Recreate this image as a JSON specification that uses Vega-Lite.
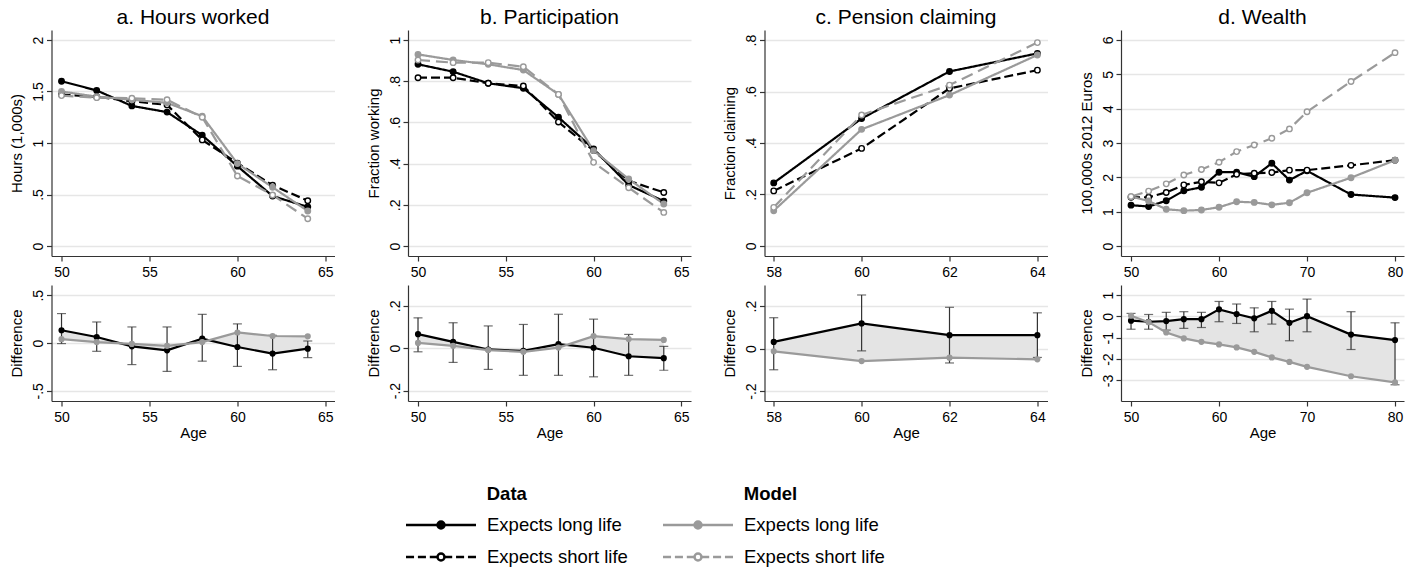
{
  "$schema": "https://vega.github.io/schema/vega-lite/v6.json",
  "padding": {"left": 9.5, "top": 7, "right": 5, "bottom": 0},
  "spacing": 0,
  "datasets": {
    "top": [
      {"panel":"a","series":"Data long","age":50,"value":1.60},{"panel":"a","series":"Data long","age":52,"value":1.51},{"panel":"a","series":"Data long","age":54,"value":1.36},{"panel":"a","series":"Data long","age":56,"value":1.30},{"panel":"a","series":"Data long","age":58,"value":1.075},{"panel":"a","series":"Data long","age":60,"value":0.775},{"panel":"a","series":"Data long","age":62,"value":0.485},{"panel":"a","series":"Data long","age":64,"value":0.38},
      {"panel":"a","series":"Data short","age":50,"value":1.47},{"panel":"a","series":"Data short","age":52,"value":1.45},{"panel":"a","series":"Data short","age":54,"value":1.405},{"panel":"a","series":"Data short","age":56,"value":1.37},{"panel":"a","series":"Data short","age":58,"value":1.03},{"panel":"a","series":"Data short","age":60,"value":0.805},{"panel":"a","series":"Data short","age":62,"value":0.59},{"panel":"a","series":"Data short","age":64,"value":0.44},
      {"panel":"a","series":"Model long","age":50,"value":1.50},{"panel":"a","series":"Model long","age":52,"value":1.45},{"panel":"a","series":"Model long","age":54,"value":1.42},{"panel":"a","series":"Model long","age":56,"value":1.39},{"panel":"a","series":"Model long","age":58,"value":1.26},{"panel":"a","series":"Model long","age":60,"value":0.80},{"panel":"a","series":"Model long","age":62,"value":0.57},{"panel":"a","series":"Model long","age":64,"value":0.34},
      {"panel":"a","series":"Model short","age":50,"value":1.46},{"panel":"a","series":"Model short","age":52,"value":1.44},{"panel":"a","series":"Model short","age":54,"value":1.435},{"panel":"a","series":"Model short","age":56,"value":1.42},{"panel":"a","series":"Model short","age":58,"value":1.25},{"panel":"a","series":"Model short","age":60,"value":0.68},{"panel":"a","series":"Model short","age":62,"value":0.495},{"panel":"a","series":"Model short","age":64,"value":0.265},

      {"panel":"b","series":"Data long","age":50,"value":0.882},{"panel":"b","series":"Data long","age":52,"value":0.846},{"panel":"b","series":"Data long","age":54,"value":0.79},{"panel":"b","series":"Data long","age":56,"value":0.766},{"panel":"b","series":"Data long","age":58,"value":0.625},{"panel":"b","series":"Data long","age":60,"value":0.471},{"panel":"b","series":"Data long","age":62,"value":0.296},{"panel":"b","series":"Data long","age":64,"value":0.218},
      {"panel":"b","series":"Data short","age":50,"value":0.817},{"panel":"b","series":"Data short","age":52,"value":0.817},{"panel":"b","series":"Data short","age":54,"value":0.79},{"panel":"b","series":"Data short","age":56,"value":0.777},{"panel":"b","series":"Data short","age":58,"value":0.602},{"panel":"b","series":"Data short","age":60,"value":0.463},{"panel":"b","series":"Data short","age":62,"value":0.317},{"panel":"b","series":"Data short","age":64,"value":0.26},
      {"panel":"b","series":"Model long","age":50,"value":0.93},{"panel":"b","series":"Model long","age":52,"value":0.903},{"panel":"b","series":"Model long","age":54,"value":0.882},{"panel":"b","series":"Model long","age":56,"value":0.854},{"panel":"b","series":"Model long","age":58,"value":0.736},{"panel":"b","series":"Model long","age":60,"value":0.463},{"panel":"b","series":"Model long","age":62,"value":0.325},{"panel":"b","series":"Model long","age":64,"value":0.204},
      {"panel":"b","series":"Model short","age":50,"value":0.903},{"panel":"b","series":"Model short","age":52,"value":0.89},{"panel":"b","series":"Model short","age":54,"value":0.89},{"panel":"b","series":"Model short","age":56,"value":0.87},{"panel":"b","series":"Model short","age":58,"value":0.736},{"panel":"b","series":"Model short","age":60,"value":0.406},{"panel":"b","series":"Model short","age":62,"value":0.283},{"panel":"b","series":"Model short","age":64,"value":0.163},

      {"panel":"c","series":"Data long","age":58,"value":0.245},{"panel":"c","series":"Data long","age":60,"value":0.495},{"panel":"c","series":"Data long","age":62,"value":0.678},{"panel":"c","series":"Data long","age":64,"value":0.748},
      {"panel":"c","series":"Data short","age":58,"value":0.214},{"panel":"c","series":"Data short","age":60,"value":0.379},{"panel":"c","series":"Data short","age":62,"value":0.612},{"panel":"c","series":"Data short","age":64,"value":0.683},
      {"panel":"c","series":"Model long","age":58,"value":0.137},{"panel":"c","series":"Model long","age":60,"value":0.453},{"panel":"c","series":"Model long","age":62,"value":0.586},{"panel":"c","series":"Model long","age":64,"value":0.742},
      {"panel":"c","series":"Model short","age":58,"value":0.15},{"panel":"c","series":"Model short","age":60,"value":0.509},{"panel":"c","series":"Model short","age":62,"value":0.625},{"panel":"c","series":"Model short","age":64,"value":0.79},

      {"panel":"d","series":"Data long","age":50,"value":1.19},{"panel":"d","series":"Data long","age":52,"value":1.15},{"panel":"d","series":"Data long","age":54,"value":1.32},{"panel":"d","series":"Data long","age":56,"value":1.61},{"panel":"d","series":"Data long","age":58,"value":1.71},{"panel":"d","series":"Data long","age":60,"value":2.15},{"panel":"d","series":"Data long","age":62,"value":2.15},{"panel":"d","series":"Data long","age":64,"value":2.02},{"panel":"d","series":"Data long","age":66,"value":2.41},{"panel":"d","series":"Data long","age":68,"value":1.92},{"panel":"d","series":"Data long","age":70,"value":2.19},{"panel":"d","series":"Data long","age":75,"value":1.50},{"panel":"d","series":"Data long","age":80,"value":1.41},
      {"panel":"d","series":"Data short","age":50,"value":1.42},{"panel":"d","series":"Data short","age":52,"value":1.42},{"panel":"d","series":"Data short","age":54,"value":1.56},{"panel":"d","series":"Data short","age":56,"value":1.78},{"panel":"d","series":"Data short","age":58,"value":1.87},{"panel":"d","series":"Data short","age":60,"value":1.84},{"panel":"d","series":"Data short","age":62,"value":2.09},{"panel":"d","series":"Data short","age":64,"value":2.12},{"panel":"d","series":"Data short","age":66,"value":2.14},{"panel":"d","series":"Data short","age":68,"value":2.21},{"panel":"d","series":"Data short","age":70,"value":2.21},{"panel":"d","series":"Data short","age":75,"value":2.35},{"panel":"d","series":"Data short","age":80,"value":2.50},
      {"panel":"d","series":"Model long","age":50,"value":1.44},{"panel":"d","series":"Model long","age":52,"value":1.31},{"panel":"d","series":"Model long","age":54,"value":1.07},{"panel":"d","series":"Model long","age":56,"value":1.03},{"panel":"d","series":"Model long","age":58,"value":1.05},{"panel":"d","series":"Model long","age":60,"value":1.13},{"panel":"d","series":"Model long","age":62,"value":1.29},{"panel":"d","series":"Model long","age":64,"value":1.27},{"panel":"d","series":"Model long","age":66,"value":1.20},{"panel":"d","series":"Model long","age":68,"value":1.26},{"panel":"d","series":"Model long","age":70,"value":1.55},{"panel":"d","series":"Model long","age":75,"value":1.99},{"panel":"d","series":"Model long","age":80,"value":2.50},
      {"panel":"d","series":"Model short","age":50,"value":1.44},{"panel":"d","series":"Model short","age":52,"value":1.60},{"panel":"d","series":"Model short","age":54,"value":1.81},{"panel":"d","series":"Model short","age":56,"value":2.07},{"panel":"d","series":"Model short","age":58,"value":2.23},{"panel":"d","series":"Model short","age":60,"value":2.44},{"panel":"d","series":"Model short","age":62,"value":2.75},{"panel":"d","series":"Model short","age":64,"value":2.94},{"panel":"d","series":"Model short","age":66,"value":3.14},{"panel":"d","series":"Model short","age":68,"value":3.41},{"panel":"d","series":"Model short","age":70,"value":3.91},{"panel":"d","series":"Model short","age":75,"value":4.79},{"panel":"d","series":"Model short","age":80,"value":5.63}
    ],
    "diff": [
      {"panel":"a","age":50,"data":0.133,"model":0.04,"lo":-0.006,"hi":0.308},
      {"panel":"a","age":52,"data":0.063,"model":0.01,"lo":-0.087,"hi":0.22},
      {"panel":"a","age":54,"data":-0.035,"model":-0.01,"lo":-0.226,"hi":0.168},
      {"panel":"a","age":56,"data":-0.077,"model":-0.03,"lo":-0.297,"hi":0.168},
      {"panel":"a","age":58,"data":0.046,"model":0.01,"lo":-0.19,"hi":0.30},
      {"panel":"a","age":60,"data":-0.042,"model":0.11,"lo":-0.245,"hi":0.20},
      {"panel":"a","age":62,"data":-0.111,"model":0.073,"lo":-0.28,"hi":0.08},
      {"panel":"a","age":64,"data":-0.059,"model":0.07,"lo":-0.153,"hi":0.021},
      {"panel":"b","age":50,"data":0.066,"model":0.025,"lo":-0.017,"hi":0.143},
      {"panel":"b","age":52,"data":0.03,"model":0.011,"lo":-0.067,"hi":0.12},
      {"panel":"b","age":54,"data":-0.006,"model":-0.009,"lo":-0.1,"hi":0.105},
      {"panel":"b","age":56,"data":-0.013,"model":-0.017,"lo":-0.128,"hi":0.112},
      {"panel":"b","age":58,"data":0.019,"model":0.003,"lo":-0.128,"hi":0.16},
      {"panel":"b","age":60,"data":0.002,"model":0.057,"lo":-0.135,"hi":0.137},
      {"panel":"b","age":62,"data":-0.038,"model":0.043,"lo":-0.128,"hi":0.065},
      {"panel":"b","age":64,"data":-0.047,"model":0.039,"lo":-0.104,"hi":0.009},
      {"panel":"c","age":58,"data":0.031,"model":-0.013,"lo":-0.1,"hi":0.145},
      {"panel":"c","age":60,"data":0.118,"model":-0.059,"lo":-0.011,"hi":0.252},
      {"panel":"c","age":62,"data":0.063,"model":-0.043,"lo":-0.068,"hi":0.194},
      {"panel":"c","age":64,"data":0.063,"model":-0.051,"lo":-0.042,"hi":0.168},
      {"panel":"d","age":50,"data":-0.2,"model":0.03,"lo":-0.6,"hi":0.14},
      {"panel":"d","age":52,"data":-0.25,"model":-0.27,"lo":-0.6,"hi":0.09},
      {"panel":"d","age":54,"data":-0.22,"model":-0.75,"lo":-0.64,"hi":0.19},
      {"panel":"d","age":56,"data":-0.13,"model":-1.03,"lo":-0.56,"hi":0.22},
      {"panel":"d","age":58,"data":-0.13,"model":-1.19,"lo":-0.52,"hi":0.19},
      {"panel":"d","age":60,"data":0.33,"model":-1.31,"lo":-0.25,"hi":0.70},
      {"panel":"d","age":62,"data":0.11,"model":-1.45,"lo":-0.33,"hi":0.58},
      {"panel":"d","age":64,"data":-0.09,"model":-1.66,"lo":-0.72,"hi":0.40},
      {"panel":"d","age":66,"data":0.26,"model":-1.92,"lo":-0.36,"hi":0.70},
      {"panel":"d","age":68,"data":-0.30,"model":-2.13,"lo":-1.14,"hi":0.34},
      {"panel":"d","age":70,"data":0.01,"model":-2.36,"lo":-0.72,"hi":0.81},
      {"panel":"d","age":75,"data":-0.85,"model":-2.80,"lo":-1.55,"hi":0.22},
      {"panel":"d","age":80,"data":-1.11,"model":-3.09,"lo":-3.2,"hi":-0.30}
    ],
    "leg": [
      {"Data":"Expects long life","Model":"Expects long life"},
      {"Data":"Expects short life","Model":"Expects short life"}
    ]
  },
  "resolve": {"scale": {"color": "independent", "strokeDash": "independent", "fill": "independent", "stroke": "independent", "shape": "independent"}},
  "vconcat": [
    {
      "hconcat": [
        {
          "spacing": 6,
          "vconcat": [
            {
              "width": 283, "height": 226,
              "title": "a. Hours worked",
              "data": {"name": "top"},
              "transform": [{"filter": "datum.panel === 'a'"}],
              "encoding": {
                "x": {"field": "age", "type": "quantitative", "scale": {"domain": [49.43, 65.52], "nice": false, "zero": false}, "axis": {"values": [50,55,60,65], "title": null}},
                "y": {"field": "value", "type": "quantitative", "scale": {"domain": [-0.097, 2.097], "nice": false, "zero": false}, "axis": {"values": [0,0.5,1,1.5,2], "tickCount": 10, "title": "Hours (1,000s)", "labelOverlap": false, "labelExpr": "datum.value > 0 && datum.value < 1 ? replace(toString(datum.value), '0.', '.') : (datum.value < 0 && datum.value > -1 ? replace(toString(datum.value), '-0.', '-.') : toString(datum.value))"}}
              },
              "layer": [
                {"mark": {"type": "line", "strokeWidth": 2.2},
                 "encoding": {
                   "color": {"field": "series", "type": "nominal", "scale": {"domain": ["Data long","Data short","Model long","Model short"], "range": ["#000000","#000000","#9a9a9a","#9a9a9a"]}, "legend": null},
                   "strokeDash": {"field": "series", "type": "nominal", "scale": {"domain": ["Data long","Data short","Model long","Model short"], "range": [[1,0],[9,4],[1,0],[12,6]]}, "legend": null}
                 }},
                {"mark": {"type": "point", "filled": true, "opacity": 1, "size": 30, "strokeWidth": 1.4},
                 "encoding": {
                   "fill": {"field": "series", "type": "nominal", "scale": {"domain": ["Data long","Data short","Model long","Model short"], "range": ["#000000","#ffffff","#9a9a9a","#ffffff"]}, "legend": null},
                   "stroke": {"field": "series", "type": "nominal", "scale": {"domain": ["Data long","Data short","Model long","Model short"], "range": ["#000000","#000000","#9a9a9a","#9a9a9a"]}, "legend": null}
                 }}
              ]
            },
            {
              "width": 283, "height": 116,
              "data": {"name": "diff"},
              "transform": [{"filter": "datum.panel === 'a'"}],
              "encoding": {
                "x": {"field": "age", "type": "quantitative", "scale": {"domain": [49.43, 65.52], "nice": false, "zero": false}, "axis": {"values": [50,55,60,65], "title": "Age"}}
              },
              "layer": [
                {"mark": {"type": "area", "color": "#e4e4e4", "opacity": 1},
                 "encoding": {"y": {"field": "data", "type": "quantitative", "title": "Difference", "scale": {"domain": [-0.607, 0.607], "nice": false, "zero": false}, "axis": {"values": [-0.5,0,0.5], "tickCount": 10, "labelOverlap": false, "labelExpr": "datum.value > 0 && datum.value < 1 ? replace(toString(datum.value), '0.', '.') : (datum.value < 0 && datum.value > -1 ? replace(toString(datum.value), '-0.', '-.') : toString(datum.value))"}}, "y2": {"field": "model"}}},
                {"mark": {"type": "errorbar", "ticks": {"size": 9}, "thickness": 1.2, "color": "#333333"},
                 "encoding": {"y": {"field": "lo", "type": "quantitative", "title": "Difference"}, "y2": {"field": "hi"}}},
                {"mark": {"type": "line", "color": "#000000", "strokeWidth": 2.2, "point": {"filled": true, "color": "#000000", "size": 38, "opacity": 1}},
                 "encoding": {"y": {"field": "data", "type": "quantitative", "title": "Difference"}}},
                {"mark": {"type": "line", "color": "#9a9a9a", "strokeWidth": 2.2, "point": {"filled": true, "color": "#9a9a9a", "size": 38, "opacity": 1}},
                 "encoding": {"y": {"field": "model", "type": "quantitative", "title": "Difference"}}}
              ]
            }
          ]
        },
        {
          "spacing": 6,
          "vconcat": [
            {
              "width": 283, "height": 226,
              "title": "b. Participation",
              "data": {"name": "top"},
              "transform": [{"filter": "datum.panel === 'b'"}],
              "encoding": {
                "x": {"field": "age", "type": "quantitative", "scale": {"domain": [49.43, 65.55], "nice": false, "zero": false}, "axis": {"values": [50,55,60,65], "title": null}},
                "y": {"field": "value", "type": "quantitative", "scale": {"domain": [-0.0485, 1.0485], "nice": false, "zero": false}, "axis": {"values": [0,0.2,0.4,0.6,0.8,1], "tickCount": 10, "title": "Fraction working", "labelOverlap": false, "labelExpr": "datum.value > 0 && datum.value < 1 ? replace(toString(datum.value), '0.', '.') : (datum.value < 0 && datum.value > -1 ? replace(toString(datum.value), '-0.', '-.') : toString(datum.value))"}}
              },
              "layer": [
                {"mark": {"type": "line", "strokeWidth": 2.2},
                 "encoding": {
                   "color": {"field": "series", "type": "nominal", "scale": {"domain": ["Data long","Data short","Model long","Model short"], "range": ["#000000","#000000","#9a9a9a","#9a9a9a"]}, "legend": null},
                   "strokeDash": {"field": "series", "type": "nominal", "scale": {"domain": ["Data long","Data short","Model long","Model short"], "range": [[1,0],[9,4],[1,0],[12,6]]}, "legend": null}
                 }},
                {"mark": {"type": "point", "filled": true, "opacity": 1, "size": 30, "strokeWidth": 1.4},
                 "encoding": {
                   "fill": {"field": "series", "type": "nominal", "scale": {"domain": ["Data long","Data short","Model long","Model short"], "range": ["#000000","#ffffff","#9a9a9a","#ffffff"]}, "legend": null},
                   "stroke": {"field": "series", "type": "nominal", "scale": {"domain": ["Data long","Data short","Model long","Model short"], "range": ["#000000","#000000","#9a9a9a","#9a9a9a"]}, "legend": null}
                 }}
              ]
            },
            {
              "width": 283, "height": 116,
              "data": {"name": "diff"},
              "transform": [{"filter": "datum.panel === 'b'"}],
              "encoding": {
                "x": {"field": "age", "type": "quantitative", "scale": {"domain": [49.43, 65.55], "nice": false, "zero": false}, "axis": {"values": [50,55,60,65], "title": "Age"}}
              },
              "layer": [
                {"mark": {"type": "area", "color": "#e4e4e4", "opacity": 1},
                 "encoding": {"y": {"field": "data", "type": "quantitative", "title": "Difference", "scale": {"domain": [-0.249, 0.298], "nice": false, "zero": false}, "axis": {"values": [-0.2,0,0.2], "tickCount": 10, "labelOverlap": false, "labelExpr": "datum.value > 0 && datum.value < 1 ? replace(toString(datum.value), '0.', '.') : (datum.value < 0 && datum.value > -1 ? replace(toString(datum.value), '-0.', '-.') : toString(datum.value))"}}, "y2": {"field": "model"}}},
                {"mark": {"type": "errorbar", "ticks": {"size": 9}, "thickness": 1.2, "color": "#333333"},
                 "encoding": {"y": {"field": "lo", "type": "quantitative", "title": "Difference"}, "y2": {"field": "hi"}}},
                {"mark": {"type": "line", "color": "#000000", "strokeWidth": 2.2, "point": {"filled": true, "color": "#000000", "size": 38, "opacity": 1}},
                 "encoding": {"y": {"field": "data", "type": "quantitative", "title": "Difference"}}},
                {"mark": {"type": "line", "color": "#9a9a9a", "strokeWidth": 2.2, "point": {"filled": true, "color": "#9a9a9a", "size": 38, "opacity": 1}},
                 "encoding": {"y": {"field": "model", "type": "quantitative", "title": "Difference"}}}
              ]
            }
          ]
        },
        {
          "spacing": 6,
          "vconcat": [
            {
              "width": 283, "height": 226,
              "title": "c. Pension claiming",
              "data": {"name": "top"},
              "transform": [{"filter": "datum.panel === 'c'"}],
              "encoding": {
                "x": {"field": "age", "type": "quantitative", "scale": {"domain": [57.79, 64.23], "nice": false, "zero": false}, "axis": {"values": [58,60,62,64], "title": null}},
                "y": {"field": "value", "type": "quantitative", "scale": {"domain": [-0.039, 0.839], "nice": false, "zero": false}, "axis": {"values": [0,0.2,0.4,0.6,0.8], "tickCount": 10, "title": "Fraction claiming", "labelOverlap": false, "labelExpr": "datum.value > 0 && datum.value < 1 ? replace(toString(datum.value), '0.', '.') : (datum.value < 0 && datum.value > -1 ? replace(toString(datum.value), '-0.', '-.') : toString(datum.value))"}}
              },
              "layer": [
                {"mark": {"type": "line", "strokeWidth": 2.2},
                 "encoding": {
                   "color": {"field": "series", "type": "nominal", "scale": {"domain": ["Data long","Data short","Model long","Model short"], "range": ["#000000","#000000","#9a9a9a","#9a9a9a"]}, "legend": null},
                   "strokeDash": {"field": "series", "type": "nominal", "scale": {"domain": ["Data long","Data short","Model long","Model short"], "range": [[1,0],[9,4],[1,0],[12,6]]}, "legend": null}
                 }},
                {"mark": {"type": "point", "filled": true, "opacity": 1, "size": 30, "strokeWidth": 1.4},
                 "encoding": {
                   "fill": {"field": "series", "type": "nominal", "scale": {"domain": ["Data long","Data short","Model long","Model short"], "range": ["#000000","#ffffff","#9a9a9a","#ffffff"]}, "legend": null},
                   "stroke": {"field": "series", "type": "nominal", "scale": {"domain": ["Data long","Data short","Model long","Model short"], "range": ["#000000","#000000","#9a9a9a","#9a9a9a"]}, "legend": null}
                 }}
              ]
            },
            {
              "width": 283, "height": 116,
              "data": {"name": "diff"},
              "transform": [{"filter": "datum.panel === 'c'"}],
              "encoding": {
                "x": {"field": "age", "type": "quantitative", "scale": {"domain": [57.79, 64.23], "nice": false, "zero": false}, "axis": {"values": [58,60,62,64], "title": "Age"}}
              },
              "layer": [
                {"mark": {"type": "area", "color": "#e4e4e4", "opacity": 1},
                 "encoding": {"y": {"field": "data", "type": "quantitative", "title": "Difference", "scale": {"domain": [-0.247, 0.299], "nice": false, "zero": false}, "axis": {"values": [-0.2,0,0.2], "tickCount": 10, "labelOverlap": false, "labelExpr": "datum.value > 0 && datum.value < 1 ? replace(toString(datum.value), '0.', '.') : (datum.value < 0 && datum.value > -1 ? replace(toString(datum.value), '-0.', '-.') : toString(datum.value))"}}, "y2": {"field": "model"}}},
                {"mark": {"type": "errorbar", "ticks": {"size": 9}, "thickness": 1.2, "color": "#333333"},
                 "encoding": {"y": {"field": "lo", "type": "quantitative", "title": "Difference"}, "y2": {"field": "hi"}}},
                {"mark": {"type": "line", "color": "#000000", "strokeWidth": 2.2, "point": {"filled": true, "color": "#000000", "size": 38, "opacity": 1}},
                 "encoding": {"y": {"field": "data", "type": "quantitative", "title": "Difference"}}},
                {"mark": {"type": "line", "color": "#9a9a9a", "strokeWidth": 2.2, "point": {"filled": true, "color": "#9a9a9a", "size": 38, "opacity": 1}},
                 "encoding": {"y": {"field": "model", "type": "quantitative", "title": "Difference"}}}
              ]
            }
          ]
        },
        {
          "spacing": 6,
          "vconcat": [
            {
              "width": 283, "height": 226,
              "title": "d. Wealth",
              "data": {"name": "top"},
              "transform": [{"filter": "datum.panel === 'd'"}],
              "encoding": {
                "x": {"field": "age", "type": "quantitative", "scale": {"domain": [48.86, 81.02], "nice": false, "zero": false}, "axis": {"values": [50,60,70,80], "title": null}},
                "y": {"field": "value", "type": "quantitative", "scale": {"domain": [-0.29, 6.29], "nice": false, "zero": false}, "axis": {"values": [0,1,2,3,4,5,6], "tickCount": 10, "title": "100,000s 2012 Euros", "labelOverlap": false, "labelExpr": "toString(datum.value)"}}
              },
              "layer": [
                {"mark": {"type": "line", "strokeWidth": 2.2},
                 "encoding": {
                   "color": {"field": "series", "type": "nominal", "scale": {"domain": ["Data long","Data short","Model long","Model short"], "range": ["#000000","#000000","#9a9a9a","#9a9a9a"]}, "legend": null},
                   "strokeDash": {"field": "series", "type": "nominal", "scale": {"domain": ["Data long","Data short","Model long","Model short"], "range": [[1,0],[9,4],[1,0],[12,6]]}, "legend": null}
                 }},
                {"mark": {"type": "point", "filled": true, "opacity": 1, "size": 30, "strokeWidth": 1.4},
                 "encoding": {
                   "fill": {"field": "series", "type": "nominal", "scale": {"domain": ["Data long","Data short","Model long","Model short"], "range": ["#000000","#ffffff","#9a9a9a","#ffffff"]}, "legend": null},
                   "stroke": {"field": "series", "type": "nominal", "scale": {"domain": ["Data long","Data short","Model long","Model short"], "range": ["#000000","#000000","#9a9a9a","#9a9a9a"]}, "legend": null}
                 }}
              ]
            },
            {
              "width": 283, "height": 116,
              "data": {"name": "diff"},
              "transform": [{"filter": "datum.panel === 'd'"}],
              "encoding": {
                "x": {"field": "age", "type": "quantitative", "scale": {"domain": [48.86, 81.02], "nice": false, "zero": false}, "axis": {"values": [50,60,70,80], "title": "Age"}}
              },
              "layer": [
                {"mark": {"type": "area", "color": "#e4e4e4", "opacity": 1},
                 "encoding": {"y": {"field": "data", "type": "quantitative", "title": "Difference", "scale": {"domain": [-3.96, 1.47], "nice": false, "zero": false}, "axis": {"values": [-3,-2,-1,0,1], "tickCount": 10, "labelOverlap": false, "labelExpr": "toString(datum.value)"}}, "y2": {"field": "model"}}},
                {"mark": {"type": "errorbar", "ticks": {"size": 9}, "thickness": 1.2, "color": "#333333"},
                 "encoding": {"y": {"field": "lo", "type": "quantitative", "title": "Difference"}, "y2": {"field": "hi"}}},
                {"mark": {"type": "line", "color": "#000000", "strokeWidth": 2.2, "point": {"filled": true, "color": "#000000", "size": 38, "opacity": 1}},
                 "encoding": {"y": {"field": "data", "type": "quantitative", "title": "Difference"}}},
                {"mark": {"type": "line", "color": "#9a9a9a", "strokeWidth": 2.2, "point": {"filled": true, "color": "#9a9a9a", "size": 38, "opacity": 1}},
                 "encoding": {"y": {"field": "model", "type": "quantitative", "title": "Difference"}}}
              ]
            }
          ]
        }
      ],
      "spacing": 31.5
    },
    {
      "width": 1, "height": 1,
      "data": {"name": "leg"},
      "transform": [{"filter": "false"}],
      "resolve": {"scale": {"shape": "independent", "fill": "independent", "stroke": "independent"}},
      "layer": [
        {"mark": {"type": "point", "filled": true, "opacity": 1},
         "encoding": {
           "shape": {"field": "Data", "type": "nominal", "scale": {"domain": ["Expects long life","Expects short life"], "range": ["M-1,0H-0.1M0.1,0H1M0.1,0A0.1,0.1,0,1,1,-0.1,0A0.1,0.1,0,1,1,0.1,0Z", "M-1,0H-0.77M-0.66,0H-0.43M-0.32,0H-0.1M0.1,0H0.32M0.43,0H0.66M0.77,0H1M0.1,0A0.1,0.1,0,1,1,-0.1,0A0.1,0.1,0,1,1,0.1,0Z"]},
             "legend": {"title": "\u200b\u00a0\u00a0\u00a0\u00a0\u00a0\u00a0\u00a0\u00a0\u00a0\u00a0\u00a0\u00a0\u00a0\u00a0\u00a0\u00a0Data", "orient": "none", "legendX": 353, "legendY": 45, "direction": "vertical", "symbolSize": 4900, "symbolStrokeWidth": 2.5, "clipHeight": 24, "rowPadding": 8, "labelOffset": 9.5, "titlePadding": 9.5, "padding": 0, "titleFontWeight": "bold", "titleLimit": 300}},
           "fill": {"field": "Data", "type": "nominal", "scale": {"domain": ["Expects long life","Expects short life"], "range": ["#000000","#ffffff"]},
             "legend": {"title": "\u200b\u00a0\u00a0\u00a0\u00a0\u00a0\u00a0\u00a0\u00a0\u00a0\u00a0\u00a0\u00a0\u00a0\u00a0\u00a0\u00a0Data", "orient": "none", "legendX": 353, "legendY": 45, "direction": "vertical", "symbolSize": 4900, "symbolStrokeWidth": 2.5, "clipHeight": 24, "rowPadding": 8, "labelOffset": 9.5, "titlePadding": 9.5, "padding": 0, "titleFontWeight": "bold", "titleLimit": 300}},
           "stroke": {"field": "Data", "type": "nominal", "scale": {"domain": ["Expects long life","Expects short life"], "range": ["#000000","#000000"]},
             "legend": {"title": "\u200b\u00a0\u00a0\u00a0\u00a0\u00a0\u00a0\u00a0\u00a0\u00a0\u00a0\u00a0\u00a0\u00a0\u00a0\u00a0\u00a0Data", "orient": "none", "legendX": 353, "legendY": 45, "direction": "vertical", "symbolSize": 4900, "symbolStrokeWidth": 2.5, "clipHeight": 24, "rowPadding": 8, "labelOffset": 9.5, "titlePadding": 9.5, "padding": 0, "titleFontWeight": "bold", "titleLimit": 300}}
         }},
        {"mark": {"type": "point", "filled": true, "opacity": 1},
         "encoding": {
           "shape": {"field": "Model", "type": "nominal", "scale": {"domain": ["Expects long life","Expects short life"], "range": ["M-1,0H-0.1M0.1,0H1M0.1,0A0.1,0.1,0,1,1,-0.1,0A0.1,0.1,0,1,1,0.1,0Z", "M-1,0H-0.77M-0.66,0H-0.43M-0.32,0H-0.1M0.1,0H0.32M0.43,0H0.66M0.77,0H1M0.1,0A0.1,0.1,0,1,1,-0.1,0A0.1,0.1,0,1,1,0.1,0Z"]},
             "legend": {"title": "\u200b\u00a0\u00a0\u00a0\u00a0\u00a0\u00a0\u00a0\u00a0\u00a0\u00a0\u00a0\u00a0\u00a0\u00a0\u00a0\u00a0Model", "orient": "none", "legendX": 610, "legendY": 45, "direction": "vertical", "symbolSize": 4900, "symbolStrokeWidth": 2.5, "clipHeight": 24, "rowPadding": 8, "labelOffset": 9.5, "titlePadding": 9.5, "padding": 0, "titleFontWeight": "bold", "titleLimit": 300}},
           "fill": {"field": "Model", "type": "nominal", "scale": {"domain": ["Expects long life","Expects short life"], "range": ["#9a9a9a","#ffffff"]},
             "legend": {"title": "\u200b\u00a0\u00a0\u00a0\u00a0\u00a0\u00a0\u00a0\u00a0\u00a0\u00a0\u00a0\u00a0\u00a0\u00a0\u00a0\u00a0Model", "orient": "none", "legendX": 610, "legendY": 45, "direction": "vertical", "symbolSize": 4900, "symbolStrokeWidth": 2.5, "clipHeight": 24, "rowPadding": 8, "labelOffset": 9.5, "titlePadding": 9.5, "padding": 0, "titleFontWeight": "bold", "titleLimit": 300}},
           "stroke": {"field": "Model", "type": "nominal", "scale": {"domain": ["Expects long life","Expects short life"], "range": ["#9a9a9a","#9a9a9a"]},
             "legend": {"title": "\u200b\u00a0\u00a0\u00a0\u00a0\u00a0\u00a0\u00a0\u00a0\u00a0\u00a0\u00a0\u00a0\u00a0\u00a0\u00a0\u00a0Model", "orient": "none", "legendX": 610, "legendY": 45, "direction": "vertical", "symbolSize": 4900, "symbolStrokeWidth": 2.5, "clipHeight": 24, "rowPadding": 8, "labelOffset": 9.5, "titlePadding": 9.5, "padding": 0, "titleFontWeight": "bold", "titleLimit": 300}}
         }}
      ]
    }
  ],
  "config": {
    "view": {"stroke": null},
    "font": "Liberation Sans",
    "axis": {"labelFont": "Liberation Sans", "titleFont": "Liberation Sans", "labelFontSize": 14, "titleFontSize": 15, "titleFontWeight": "normal", "labelColor": "#000000", "titleColor": "#000000", "domainColor": "#333333", "tickColor": "#333333", "domainWidth": 1.2, "tickWidth": 1.2, "tickSize": 5, "gridColor": "#e6e6e6", "gridWidth": 1.3, "labelOverlap": false},
    "axisX": {"grid": false, "labelPadding": 4, "titlePadding": 1, "labelFlush": false},
    "axisY": {"grid": true, "labelAngle": -90, "labelAlign": "center", "labelBaseline": "bottom", "labelPadding": 1, "titlePadding": 3, "minExtent": 24, "maxExtent": 24, "labelOverlap": false},
    "title": {"font": "Liberation Sans", "fontSize": 21, "fontWeight": "normal", "color": "#000000", "offset": 2, "baseline": "alphabetic", "frame": "group", "anchor": "middle"},
    "legend": {"labelFont": "Liberation Sans", "titleFont": "Liberation Sans", "labelFontSize": 18.5, "titleFontSize": 18.5, "labelColor": "#000000", "titleColor": "#000000"}
  }
}
